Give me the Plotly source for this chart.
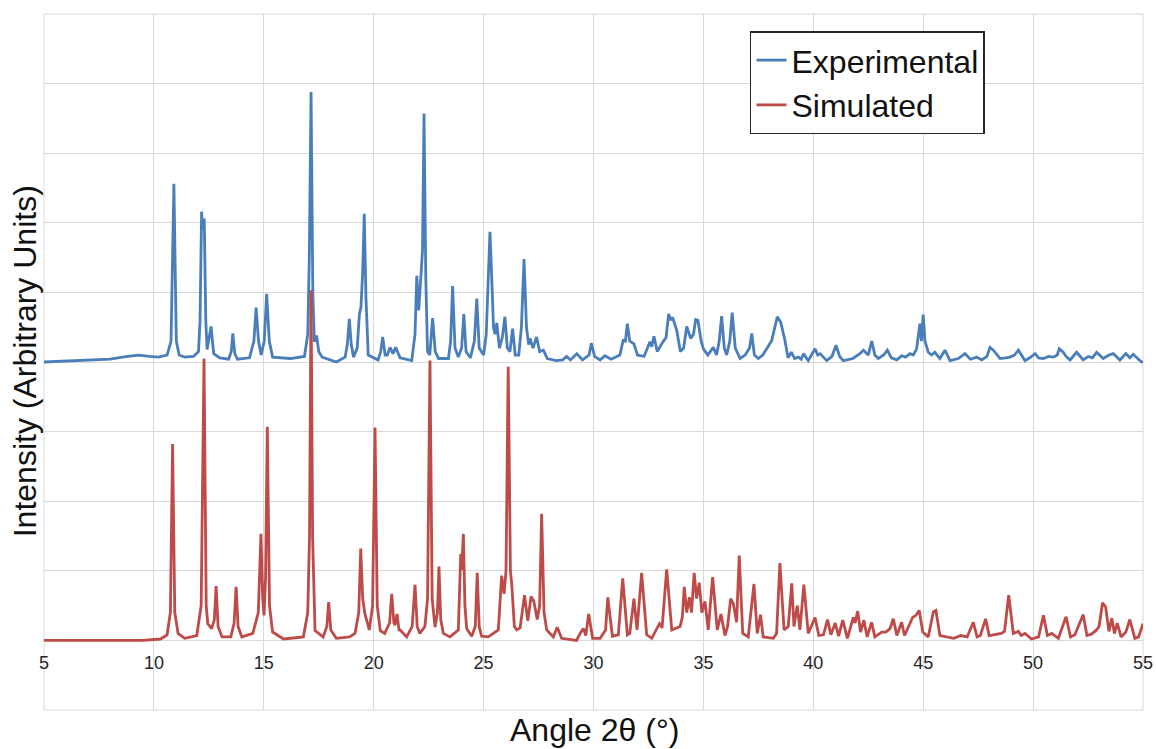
import plotly.graph_objects as go

# ---- data (angle 2-theta, plotted intensity) ----
exp_angle = [5.0, 6.0, 7.0, 8.0, 8.8, 9.3, 9.8, 10.2, 10.6, 10.78, 10.91, 11.02, 11.15, 11.4, 11.8, 12.03, 12.1, 12.17, 12.22, 12.29,
             12.36, 12.42, 12.6, 12.72, 13.0, 13.4, 13.52, 13.59, 13.68, 13.8, 14.35, 14.55, 14.65, 14.76, 14.88, 15.02, 15.13, 15.25, 15.4, 16.2,
             16.85, 17.0, 17.07, 17.15, 17.23, 17.3, 17.4, 17.5, 17.65, 18.3, 18.7, 18.8, 18.89, 18.98, 19.08, 19.25, 19.35, 19.42, 19.5, 19.57,
             19.65, 19.75, 20.2, 20.32, 20.41, 20.52, 20.62, 20.74, 20.88, 21.0, 21.2, 21.73, 21.88, 21.96, 22.05, 22.14, 22.22, 22.29, 22.37, 22.45,
             22.55, 22.68, 22.8, 22.95, 23.4, 23.5, 23.59, 23.7, 23.85, 24.0, 24.1, 24.2, 24.4, 24.58, 24.69, 24.8, 25.0, 25.12, 25.22, 25.29,
             25.36, 25.45, 25.52, 25.6, 25.72, 25.85, 25.97, 26.08, 26.2, 26.32, 26.44, 26.6, 26.72, 26.84, 26.95, 27.05, 27.11, 27.25, 27.41, 27.55,
             27.72, 27.9, 28.3, 28.6, 28.78, 28.95, 29.24, 29.5, 29.8, 29.9, 30.05, 30.3, 30.52, 30.8, 31.2, 31.35, 31.45, 31.54, 31.65, 31.84,
             32.0, 32.3, 32.57, 32.65, 32.75, 32.9, 33.18, 33.3, 33.42, 33.5, 33.6, 33.79, 33.95, 34.1, 34.24, 34.42, 34.55, 34.65, 34.75, 34.9,
             35.0, 35.2, 35.45, 35.6, 35.72, 35.83, 35.95, 36.06, 36.2, 36.31, 36.45, 36.67, 36.9, 37.1, 37.2, 37.32, 37.5, 37.7, 37.88, 38.11,
             38.25, 38.36, 38.52, 38.71, 38.85, 39.0, 39.15, 39.32, 39.45, 39.55, 39.77, 40.08, 40.2, 40.31, 40.61, 40.85, 41.03, 41.2, 41.37, 41.8,
             42.12, 42.28, 42.5, 42.66, 42.8, 42.96, 43.2, 43.37, 43.55, 43.8, 44.02, 44.2, 44.4, 44.55, 44.7, 44.8, 44.85, 44.92, 45.0, 45.08,
             45.23, 45.38, 45.53, 45.76, 45.99, 46.22, 46.6, 46.9, 47.15, 47.43, 47.66, 47.9, 48.04, 48.19, 48.5, 48.75, 48.95, 49.15, 49.33, 49.63,
             49.85, 50.09, 50.25, 50.47, 50.7, 50.92, 51.1, 51.19, 51.37, 51.5, 51.68, 51.98, 52.28, 52.51, 52.7, 52.89, 53.19, 53.45, 53.65, 53.95,
             54.22, 54.4, 54.56, 54.86, 55.0]
exp_intensity = [4.0, 4.01, 4.02, 4.04, 4.08, 4.1, 4.08, 4.07, 4.1, 4.3, 6.56, 4.3, 4.1, 4.07, 4.08, 4.15, 4.6, 6.16, 5.9, 6.06,
                 4.6, 4.18, 4.51, 4.12, 4.06, 4.04, 4.15, 4.41, 4.12, 4.04, 4.06, 4.3, 4.78, 4.3, 4.1, 4.3, 4.98, 4.3, 4.07, 4.05,
                 4.08, 4.4, 5.5, 7.88, 5.0, 4.29, 4.38, 4.15, 4.07, 4.0, 4.07, 4.25, 4.62, 4.25, 4.07, 4.2, 4.69, 4.79, 5.3, 6.13,
                 4.9, 4.1, 4.03, 4.15, 4.36, 4.1, 4.1, 4.21, 4.12, 4.21, 4.06, 4.02, 4.4, 5.24, 4.74, 5.27, 5.6, 7.57, 5.2, 4.15,
                 4.1, 4.63, 4.15, 4.05, 4.05, 4.3, 5.09, 4.2, 4.07, 4.2, 4.69, 4.15, 4.06, 4.3, 4.91, 4.2, 4.1, 4.4, 5.3, 5.87,
                 5.3, 4.5, 4.4, 4.56, 4.2, 4.35, 4.65, 4.2, 4.15, 4.48, 4.1, 4.1, 4.5, 5.48, 4.5, 4.25, 4.34, 4.2, 4.36, 4.15,
                 4.17, 4.05, 4.02, 4.03, 4.08, 4.03, 4.12, 4.03, 4.1, 4.27, 4.08, 4.03, 4.09, 4.04, 4.1, 4.31, 4.3, 4.55, 4.3, 4.26,
                 4.1, 4.08, 4.29, 4.22, 4.37, 4.15, 4.3, 4.35, 4.69, 4.6, 4.64, 4.45, 4.15, 4.2, 4.51, 4.34, 4.4, 4.61, 4.6, 4.3,
                 4.19, 4.1, 4.21, 4.1, 4.3, 4.66, 4.2, 4.1, 4.3, 4.71, 4.2, 4.05, 4.1, 4.2, 4.41, 4.1, 4.05, 4.1, 4.19, 4.31,
                 4.5, 4.65, 4.57, 4.31, 4.06, 4.14, 4.05, 4.07, 4.04, 4.12, 4.02, 4.19, 4.1, 4.12, 4.02, 4.08, 4.24, 4.08, 4.02, 4.05,
                 4.12, 4.17, 4.1, 4.3, 4.1, 4.05, 4.1, 4.17, 4.06, 4.03, 4.09, 4.07, 4.12, 4.1, 4.19, 4.45, 4.55, 4.3, 4.68, 4.3,
                 4.14, 4.1, 4.14, 4.05, 4.17, 4.02, 4.05, 4.12, 4.04, 4.07, 4.03, 4.08, 4.21, 4.17, 4.05, 4.06, 4.07, 4.1, 4.17, 4.02,
                 4.06, 4.12, 4.06, 4.05, 4.08, 4.07, 4.1, 4.19, 4.14, 4.08, 4.03, 4.14, 4.03, 4.08, 4.06, 4.14, 4.05, 4.1, 4.12, 4.03,
                 4.12, 4.06, 4.11, 4.02, 3.99]

sim_angle = [5.0, 9.5, 10.3, 10.6, 10.75, 10.85, 10.95, 11.1, 11.4, 11.95, 12.15, 12.28, 12.38, 12.45, 12.55, 12.63, 12.75, 12.83, 12.92, 13.1,
             13.5, 13.65, 13.74, 13.83, 14.0, 14.5, 14.75, 14.87, 14.95, 15.01, 15.08, 15.16, 15.26, 15.4, 15.9, 16.8, 17.0, 17.08, 17.15, 17.22,
             17.33, 17.7, 17.87, 17.95, 18.05, 18.3, 18.9, 19.15, 19.32, 19.41, 19.5, 19.6, 19.8, 19.95, 20.06, 20.16, 20.3, 20.5, 20.72, 20.82,
             20.92, 20.97, 21.06, 21.15, 21.2, 21.5, 21.75, 21.88, 21.98, 22.1, 22.33, 22.45, 22.56, 22.66, 22.79, 22.9, 22.97, 23.05, 23.17, 23.47,
             23.85, 23.96, 24.0, 24.08, 24.15, 24.23, 24.46, 24.62, 24.71, 24.8, 24.91, 25.21, 25.67, 25.82, 25.93, 26.02, 26.12, 26.22, 26.28, 26.4,
             26.51, 26.66, 26.86, 27.01, 27.16, 27.28, 27.44, 27.55, 27.64, 27.75, 27.87, 28.17, 28.35, 28.55, 29.23, 29.39, 29.54, 29.65, 29.78, 29.96,
             30.3, 30.55, 30.65, 30.86, 31.13, 31.33, 31.54, 31.65, 31.84, 31.98, 32.19, 32.42, 32.65, 33.0, 33.12, 33.33, 33.56, 33.94, 34.04, 34.13,
             34.24, 34.36, 34.46, 34.58, 34.69, 34.81, 34.93, 35.07, 35.22, 35.42, 35.63, 35.8, 35.98, 36.1, 36.24, 36.36, 36.51, 36.63, 36.79, 37.04,
             37.3, 37.45, 37.6, 37.72, 38.18, 38.33, 38.48, 38.67, 38.86, 39.02, 39.12, 39.27, 39.39, 39.57, 39.77, 40.08, 40.25, 40.46, 40.65, 40.8,
             41.0, 41.15, 41.34, 41.55, 41.82, 41.9, 42.02, 42.15, 42.3, 42.45, 42.65, 42.8, 43.11, 43.3, 43.49, 43.64, 43.8, 44.02, 44.15, 44.35,
             44.52, 44.67, 44.82, 44.98, 45.23, 45.46, 45.58, 45.76, 46.07, 46.4, 46.7, 47.0, 47.28, 47.45, 47.6, 47.84, 48.0, 48.34, 48.55, 48.7,
             48.89, 49.1, 49.33, 49.45, 49.63, 49.93, 50.25, 50.47, 50.65, 50.85, 51.15, 51.5, 51.7, 51.9, 52.28, 52.45, 52.65, 52.89, 53.0, 53.16,
             53.3, 53.45, 53.58, 53.7, 53.83, 54.0, 54.22, 54.4, 54.63, 54.8, 55.0]
sim_intensity = [0.0, 0.0, 0.02, 0.08, 0.4, 2.82, 0.4, 0.1, 0.03, 0.07, 0.5, 4.05, 0.5, 0.24, 0.2, 0.17, 0.3, 0.78, 0.2, 0.05,
                 0.05, 0.25, 0.77, 0.2, 0.05, 0.1, 0.4, 1.53, 0.6, 0.36, 0.9, 3.07, 0.5, 0.12, 0.02, 0.05, 0.4, 1.5, 5.03, 1.5,
                 0.14, 0.05, 0.2, 0.55, 0.15, 0.03, 0.05, 0.1, 0.4, 1.32, 0.6, 0.38, 0.15, 0.5, 3.06, 0.5, 0.14, 0.1, 0.25, 0.67,
                 0.25, 0.22, 0.38, 0.15, 0.15, 0.05, 0.2, 0.8, 0.2, 0.1, 0.2, 0.6, 4.02, 0.6, 0.19, 0.4, 1.06, 0.3, 0.1, 0.05,
                 0.15, 1.24, 1.01, 1.53, 0.5, 0.17, 0.06, 0.2, 0.97, 0.2, 0.06, 0.05, 0.15, 0.93, 0.67, 1.0, 3.93, 1.0, 0.81, 0.2,
                 0.15, 0.18, 0.65, 0.28, 0.63, 0.57, 0.3, 0.5, 1.82, 0.4, 0.15, 0.05, 0.19, 0.03, 0.0, 0.1, 0.17, 0.07, 0.38, 0.03,
                 0.03, 0.15, 0.62, 0.06, 0.08, 0.89, 0.08, 0.1, 0.6, 0.15, 0.97, 0.08, 0.03, 0.24, 0.18, 1.02, 0.15, 0.2, 0.33, 0.77,
                 0.4, 0.62, 0.4, 0.97, 0.6, 0.83, 0.4, 0.56, 0.15, 0.91, 0.15, 0.38, 0.07, 0.2, 0.6, 0.53, 0.26, 1.22, 0.1, 0.05,
                 0.81, 0.1, 0.37, 0.05, 0.03, 0.1, 1.11, 0.15, 0.2, 0.82, 0.2, 0.5, 0.15, 0.8, 0.1, 0.33, 0.07, 0.08, 0.3, 0.08,
                 0.25, 0.06, 0.29, 0.03, 0.33, 0.25, 0.42, 0.12, 0.29, 0.05, 0.26, 0.05, 0.12, 0.12, 0.17, 0.31, 0.07, 0.26, 0.07, 0.2,
                 0.33, 0.36, 0.43, 0.12, 0.05, 0.41, 0.43, 0.07, 0.05, 0.03, 0.07, 0.05, 0.26, 0.05, 0.07, 0.31, 0.07, 0.09, 0.1, 0.13,
                 0.65, 0.1, 0.13, 0.07, 0.1, 0.02, 0.05, 0.36, 0.07, 0.1, 0.03, 0.34, 0.05, 0.08, 0.37, 0.07, 0.09, 0.15, 0.2, 0.54,
                 0.48, 0.13, 0.32, 0.1, 0.25, 0.05, 0.12, 0.3, 0.03, 0.05, 0.24]

x_ticks = [5, 10, 15, 20, 25, 30, 35, 40, 45, 50, 55]
series_names = ["Experimental", "Simulated"]

FONT = "Liberation Sans, Arial, sans-serif"
GRID = "#d9d9d9"

fig = go.Figure()
fig.add_trace(go.Scatter(x=exp_angle, y=exp_intensity, mode="lines", name=series_names[0],
                         line=dict(color="#4a7ebb", width=2.8)))
fig.add_trace(go.Scatter(x=sim_angle, y=sim_intensity, mode="lines", name=series_names[1],
                         line=dict(color="#be4b48", width=2.8)))

fig.update_layout(
    width=1156, height=749,
    margin=dict(l=44, r=13, t=14, b=39, autoexpand=False),
    paper_bgcolor="white", plot_bgcolor="white",
    font=dict(family=FONT, color="#262626"),
    showlegend=True,
    legend=dict(x=0.6424, y=0.975, xanchor="left", yanchor="top",
                bgcolor="white", bordercolor="#262626", borderwidth=1.5,
                font=dict(size=32, family=FONT, color="#111111"),
                itemwidth=30, tracegroupgap=0),
    xaxis=dict(range=[5, 55], tickvals=x_ticks, showgrid=True, gridcolor=GRID, gridwidth=1,
               zeroline=False, showline=False, anchor="free", position=0.1, automargin=False,
               ticks="outside", ticklen=6, tickcolor="rgba(0,0,0,0)",
               tickfont=dict(size=18, family=FONT, color="#262626")),
    yaxis=dict(range=[-1, 9], dtick=1, showgrid=True, gridcolor=GRID, gridwidth=1, automargin=False,
               zeroline=False, showline=False, showticklabels=False, ticks=""),
    shapes=[dict(type="rect", xref="paper", yref="paper", x0=0, x1=1, y0=0, y1=1,
                 line=dict(color=GRID, width=1), layer="below")],
    annotations=[
        dict(text="Angle 2θ (°)", xref="paper", yref="paper", x=0.501, y=-0.029,
             xanchor="center", yanchor="middle", showarrow=False,
             font=dict(size=32, family=FONT, color="#111111")),
        dict(text="Intensity (Arbitrary Units)", xref="paper", yref="paper", x=-0.0173, y=0.501,
             xanchor="center", yanchor="middle", textangle=-90, showarrow=False,
             font=dict(size=32, family=FONT, color="#111111")),
    ],
)

fig.write_html("out.html", config={"displayModeBar": False},
               post_script="document.body.style.margin='0px';")
